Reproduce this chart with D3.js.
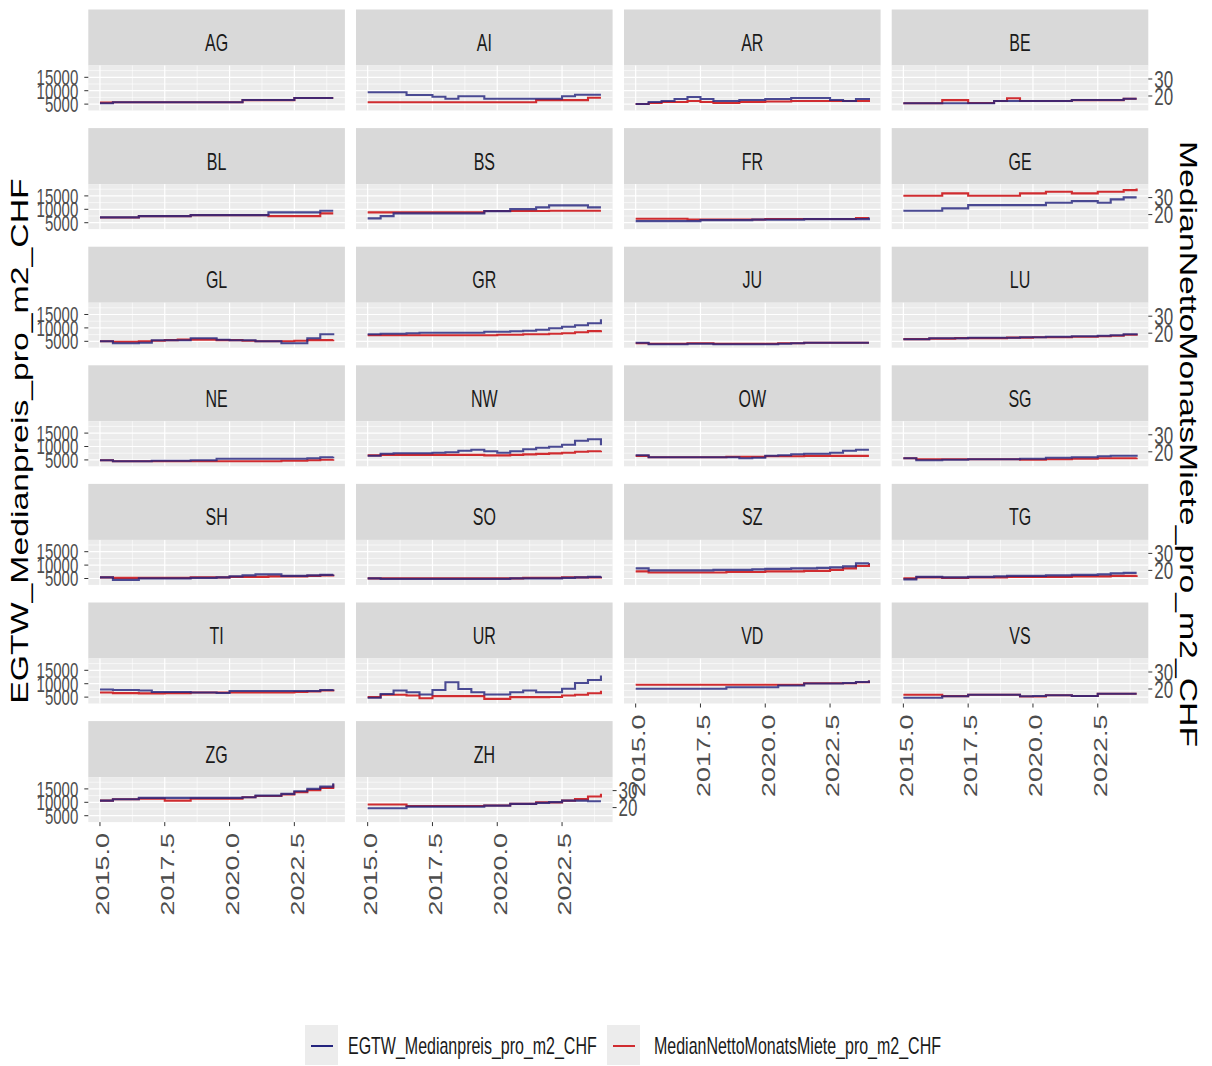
<!DOCTYPE html>
<html><head><meta charset="utf-8">
<script src="https://cdn.jsdelivr.net/npm/d3@7"></script>
<style>body{margin:0;background:#fff}svg{display:block}</style>
</head><body><svg id="c" width="1212" height="1066"></svg>
<script>
// ---------- data ----------
const cantons = ["AG","AI","AR","BE","BL","BS","FR","GE","GL","GR","JU","LU","NE","NW","OW","SG","SH","SO","SZ","TG","TI","UR","VD","VS","ZG","ZH"];
const periods = [2015,2015.5,2016,2016.5,2017,2017.5,2018,2018.5,2019,2019.5,2020,2020.5,2021,2021.5,2022,2022.5,2023,2023.5,2024];
const xTicks = [2015,2017.5,2020,2022.5];
const xTickLabels = ["2015.0","2017.5","2020.0","2022.5"];
const leftTicks = [5000,10000,15000];
const leftTickLabels = ["5000","10000","15000"];
const rightTicks = [20,30];
const rightTickLabels = ["20","30"];
const seriesNames = ["EGTW_Medianpreis_pro_m2_CHF","MedianNettoMonatsMiete_pro_m2_CHF"];

const AG_egtw = [5300,5680,5680,5680,5680,5680,5680,5680,5680,5680,5680,6530,6530,6530,6530,7280,7280,7280,7280];
const AG_rent = [16.1,16.3,16.3,16.3,16.3,16.3,16.3,16.3,16.3,16.3,16.3,17.6,17.6,17.6,17.6,18.8,18.8,18.8,18.8];
const AI_egtw = [9410,9410,9410,8400,8400,7770,7020,7910,7910,7020,7020,7020,7020,7020,7020,7910,8510,8510,8510];
const AI_rent = [16.3,16.3,16.3,16.3,16.3,16.3,16.3,16.3,16.3,16.3,16.3,16.3,16.3,17.6,17.6,17.6,17.6,19.0,19.0];
const AR_egtw = [5040,5790,6160,6910,7650,6910,6160,6160,6530,6530,6910,6910,7280,7280,7280,6530,6160,6910,7280];
const AR_rent = [15.3,15.9,16.5,16.5,17.1,16.5,15.9,15.9,16.5,16.5,16.8,16.8,17.1,17.1,17.1,17.1,17.1,17.1,17.6];
const BE_egtw = [5300,5300,5300,5300,5300,5300,5300,6160,6160,6160,6160,6160,6160,6530,6530,6530,6530,7020,7020];
const BE_rent = [15.7,15.7,15.7,17.6,17.6,15.9,15.9,17.1,18.7,17.1,17.1,17.1,17.1,17.6,17.6,17.6,17.6,18.4,18.4];
const BL_egtw = [6980,6980,6980,7470,7470,7470,7470,7840,7840,7840,7840,7840,7840,8850,8850,8850,8850,9440,9440];
const BL_rent = [18.3,18.3,18.3,19.1,19.1,19.1,19.1,19.7,19.7,19.7,19.7,19.7,19.7,19.1,19.1,19.1,19.1,20.7,20.7];
const BS_egtw = [6610,7470,8470,8470,8470,8470,8470,8470,8470,9330,9330,10080,10080,10710,11460,11460,11460,10710,10710];
const BS_rent = [21.3,21.3,21.3,21.3,21.3,21.3,21.3,21.3,21.3,22.1,22.1,22.1,22.1,22.1,22.3,22.3,22.3,22.3,22.3];
const FR_egtw = [5600,5600,5600,5600,5600,5980,5980,5980,5980,6160,6160,6160,6160,6350,6350,6350,6350,6350,6910];
const FR_rent = [17.6,17.6,17.6,17.6,17.1,17.1,17.1,17.1,17.1,17.1,17.4,17.4,17.4,17.4,17.4,17.4,17.4,17.9,17.9];
const GE_egtw = [9440,9440,9440,10340,10340,11570,11570,11570,11570,11570,11570,12430,12430,13060,13060,12430,13700,14440,14440];
const GE_rent = [31.1,31.1,31.1,32.5,32.5,31.1,31.1,31.1,31.1,32.5,32.5,33.4,33.4,32.5,32.5,33.4,33.4,34.4,35.4];
const GL_egtw = [5040,4300,4300,4480,5420,5420,5420,6160,6160,5600,5420,5420,5040,5040,4300,4300,6160,7650,8030];
const GL_rent = [15.3,15.0,15.0,15.3,15.6,15.9,16.2,16.2,16.2,15.9,15.9,15.6,15.3,15.3,15.3,15.6,15.9,15.9,16.2];
const GR_egtw = [7650,7840,7840,8030,8210,8210,8210,8210,8210,8590,8590,8770,8960,9330,9890,10450,11010,11760,13250];
const GR_rent = [18.8,18.8,18.8,18.8,18.8,18.8,18.8,18.8,18.8,18.8,19.1,19.1,19.4,19.4,19.7,20.0,20.6,21.2,21.8];
const JU_egtw = [4480,3920,3920,3920,4110,4110,3920,3920,3920,3920,3920,4110,4300,4480,4480,4480,4480,4480,4480];
const JU_rent = [14.1,13.8,13.8,13.8,14.1,14.1,13.8,13.8,13.8,13.8,13.8,14.1,14.1,14.4,14.4,14.4,14.4,14.4,14.4];
const LU_egtw = [5790,5790,6160,6160,6160,6350,6350,6350,6350,6530,6530,6720,6720,6910,6910,7100,7280,7650,8030];
const LU_rent = [16.5,16.5,16.8,16.8,17.1,17.1,17.1,17.1,17.4,17.4,17.6,17.6,17.6,17.9,17.9,18.2,18.5,19.1,19.7];
const NE_egtw = [4860,4480,4480,4480,4670,4670,4670,4860,4860,5420,5420,5420,5420,5420,5420,5420,5600,5980,6160];
const NE_rent = [15.0,14.4,14.4,14.4,14.4,14.4,14.4,14.4,14.4,14.4,14.4,14.4,14.4,14.4,14.7,14.7,15.0,15.3,15.6];
const NW_egtw = [6530,7280,7470,7470,7470,7650,7840,8400,8770,8210,7650,8210,8960,9520,9890,10640,12130,12690,10500];
const NW_rent = [17.9,18.2,18.2,18.2,18.2,18.2,18.2,18.2,18.2,17.9,17.9,18.2,18.5,18.8,19.1,19.4,20.0,20.3,20.6];
const OW_egtw = [6720,5980,5980,5980,5980,5980,5980,5980,5600,5790,6530,6720,7100,7280,7280,7650,8400,8770,8770];
const OW_rent = [17.6,16.8,16.8,16.8,16.8,16.8,16.8,17.1,17.1,17.1,17.4,17.4,17.4,17.6,17.6,17.6,17.6,17.6,17.6];
const SG_egtw = [5600,4860,4860,5040,5040,5230,5230,5230,5230,5420,5420,5790,5790,5980,5980,6350,6530,6530,6910];
const SG_rent = [16.2,15.6,15.6,15.6,15.6,15.6,15.6,15.6,15.6,15.3,15.3,15.6,15.6,15.9,15.9,16.2,16.2,16.2,16.5];
const SH_egtw = [5420,4480,4480,5040,5040,5040,5040,5230,5230,5420,5790,6160,6530,6530,5980,5980,6160,6350,6530];
const SH_rent = [15.9,15.6,15.6,15.6,15.6,15.6,15.6,15.9,15.9,15.9,16.2,16.2,16.2,16.5,16.5,16.5,16.8,17.1,17.4];
const SO_egtw = [5040,4860,4860,4860,4860,4860,4860,4860,4860,4860,4860,5040,5040,5040,5040,5230,5420,5600,5790];
const SO_rent = [15.3,15.3,15.3,15.3,15.3,15.3,15.3,15.3,15.3,15.3,15.3,15.3,15.6,15.6,15.6,15.9,15.9,15.9,16.2];
const SZ_egtw = [8770,8030,8030,8030,8030,8030,8210,8210,8210,8400,8590,8590,8770,8770,8960,9150,9520,10640,10820];
const SZ_rent = [19.4,18.8,18.8,18.8,18.8,18.8,18.8,19.1,19.1,19.1,19.4,19.4,19.4,19.7,19.7,20.3,21.2,22.6,23.8];
const TG_egtw = [4670,5600,5600,5420,5420,5600,5600,5790,5980,5980,5980,6160,6160,6350,6350,6530,6910,7100,7100];
const TG_rent = [15.3,15.9,15.9,15.6,15.6,15.9,15.9,15.9,16.2,16.2,16.2,16.2,16.2,16.5,16.5,16.5,16.8,16.8,17.1];
const TI_egtw = [7840,7650,7650,7470,6910,6910,6910,6720,6720,6530,7280,7280,7280,7280,7280,7280,7280,7650,7840];
const TI_rent = [17.9,17.6,17.6,17.4,17.4,17.6,17.6,17.9,17.9,17.9,17.9,17.9,17.9,17.9,17.9,18.2,18.5,19.1,19.7];
const UR_egtw = [4740,6160,7470,6830,5980,7650,10560,8030,6830,5980,5980,6830,7470,6830,6830,8100,10260,11380,13060];
const UR_rent = [15.2,16.6,16.6,16.2,14.6,15.8,15.8,15.8,15.8,14.2,14.2,15.2,15.2,15.2,15.3,16.2,16.6,17.5,18.9];
const VD_egtw = [8100,8100,8100,8100,8100,8100,8100,8700,8700,8700,8700,9330,9330,10080,10080,10080,10260,10640,11200];
const VD_rent = [22.5,22.5,22.5,22.5,22.5,22.5,22.5,22.5,22.5,22.5,22.5,22.5,22.5,23.4,23.4,23.4,23.4,24.0,25.0];
const VS_egtw = [4740,4740,4740,5340,5340,5860,5860,5860,5860,5340,5420,5680,5680,5420,5420,6240,6240,6240,6240];
const VS_rent = [16.6,16.6,16.6,15.8,15.8,16.6,16.6,16.6,16.6,15.6,15.6,16.3,16.3,15.9,15.9,17.2,17.2,17.2,17.2];
const ZG_egtw = [10640,11120,11120,11640,11640,11640,11640,11640,11640,11640,11640,11870,12500,12500,13140,14110,15000,15860,17090];
const ZG_rent = [24.1,24.9,24.9,25.3,25.3,24.1,24.1,25.3,25.3,25.3,25.3,26.1,26.8,26.8,27.8,29.1,30.3,31.6,33.8];
const ZH_egtw = [7760,7760,7760,8400,8400,8400,8400,8400,8400,8770,8770,9410,9410,9780,10080,10640,10640,10380,10380];
const ZH_rent = [21.8,21.8,21.8,20.9,20.9,20.9,20.9,20.9,20.9,21.2,21.2,22.2,22.2,23.1,23.1,24.1,25.0,26.5,28.1];

const egtwTable = {AG:AG_egtw,AI:AI_egtw,AR:AR_egtw,BE:BE_egtw,BL:BL_egtw,BS:BS_egtw,FR:FR_egtw,GE:GE_egtw,GL:GL_egtw,GR:GR_egtw,JU:JU_egtw,LU:LU_egtw,NE:NE_egtw,NW:NW_egtw,OW:OW_egtw,SG:SG_egtw,SH:SH_egtw,SO:SO_egtw,SZ:SZ_egtw,TG:TG_egtw,TI:TI_egtw,UR:UR_egtw,VD:VD_egtw,VS:VS_egtw,ZG:ZG_egtw,ZH:ZH_egtw};
const rentTable = {AG:AG_rent,AI:AI_rent,AR:AR_rent,BE:BE_rent,BL:BL_rent,BS:BS_rent,FR:FR_rent,GE:GE_rent,GL:GL_rent,GR:GR_rent,JU:JU_rent,LU:LU_rent,NE:NE_rent,NW:NW_rent,OW:OW_rent,SG:SG_rent,SH:SH_rent,SO:SO_rent,SZ:SZ_rent,TG:TG_rent,TI:TI_rent,UR:UR_rent,VD:VD_rent,VS:VS_rent,ZG:ZG_rent,ZH:ZH_rent};

// ---------- layout ----------
const K = 1.45; // vertical text stretch
const FONT = "'Liberation Sans', Arial, sans-serif";
const colLeft = [88.3, 356, 624, 891.7];
const PW = 256.6, PH = 45, STRIP = 56;
const rowTop = r => 65.5 + 118.6 * r;
const NCOL = 4;
const BLUE = "#24247e", RED = "#d02c30";

const svg = d3.select("#c");
const x = d3.scaleLinear().domain([2014.55, 2024.45]).range([0, PW]);
const yE = d3.scaleLinear().domain([2618, 19400]).range([PH, 0]);
const yR = d3.scaleLinear().domain([11.47, 37.94]).range([PH, 0]);

function txt(g, px, py, s, o) {
  return g.append("text")
    .attr("transform", `translate(${px},${py}) scale(1,${K})` + (o.rot ? ` rotate(${o.rot})` : ""))
    .attr("font-family", FONT).attr("font-size", o.size)
    .attr("fill", o.fill || "#000").attr("text-anchor", o.anchor || "start")
    .text(s);
}

const lineE = d3.line().x((d, i) => x(periods[i])).y(d => yE(d)).curve(d3.curveStepAfter);
const lineR = d3.line().x((d, i) => x(periods[i])).y(d => yR(d)).curve(d3.curveStepAfter);

cantons.forEach((c, idx) => {
  const row = Math.floor(idx / NCOL), col = idx % NCOL;
  const left = colLeft[col], top = rowTop(row);
  const g = svg.append("g").attr("transform", `translate(${left},${top})`);
  // strip
  g.append("rect").attr("x", 0).attr("y", -STRIP).attr("width", PW).attr("height", STRIP).attr("fill", "#d9d9d9");
  txt(g, PW / 2, -STRIP + 41.5, c, {size: 16, anchor: "middle", fill: "#1a1a1a"});
  // panel
  g.append("rect").attr("width", PW).attr("height", PH).attr("fill", "#ebebeb");
  const minorY = [7500, 12500, 17500];
  minorY.forEach(v => g.append("line").attr("x1", 0).attr("x2", PW).attr("y1", yE(v)).attr("y2", yE(v)).attr("stroke", "#fff").attr("stroke-width", 0.6));
  const minorX = [2016.25, 2018.75, 2021.25, 2023.75];
  minorX.forEach(v => g.append("line").attr("y1", 0).attr("y2", PH).attr("x1", x(v)).attr("x2", x(v)).attr("stroke", "#fff").attr("stroke-width", 0.6));
  leftTicks.forEach(v => g.append("line").attr("x1", 0).attr("x2", PW).attr("y1", yE(v)).attr("y2", yE(v)).attr("stroke", "#fff").attr("stroke-width", 1.2));
  xTicks.forEach(v => g.append("line").attr("y1", 0).attr("y2", PH).attr("x1", x(v)).attr("x2", x(v)).attr("stroke", "#fff").attr("stroke-width", 1.2));
  // series
  g.append("path").attr("d", lineR(rentTable[c])).attr("fill", "none").attr("stroke", RED).attr("stroke-width", 2.1);
  g.append("path").attr("d", lineE(egtwTable[c])).attr("fill", "none").attr("stroke", BLUE).attr("stroke-width", 2.1).attr("stroke-opacity", 0.82);
  // left axis
  if (col === 0) {
    leftTicks.forEach((v, i) => {
      g.append("line").attr("x1", -4).attr("x2", 0).attr("y1", yE(v)).attr("y2", yE(v)).attr("stroke", "#333").attr("stroke-width", 1);
      txt(g, -10, yE(v) + 7.8, leftTickLabels[i], {size: 15, anchor: "end", fill: "#4d4d4d"});
    });
  }
  // right axis: last panel in row
  const lastInRow = col === NCOL - 1 || idx === cantons.length - 1;
  if (lastInRow) {
    rightTicks.forEach((v, i) => {
      g.append("line").attr("x1", PW).attr("x2", PW + 4).attr("y1", yR(v)).attr("y2", yR(v)).attr("stroke", "#333").attr("stroke-width", 1);
      txt(g, PW + 6, yR(v) + 8.8, rightTickLabels[i], {size: 17, anchor: "start", fill: "#4d4d4d"});
    });
  }
  // bottom axis: no panel below
  if (idx + NCOL >= cantons.length) {
    xTicks.forEach((v, i) => {
      g.append("line").attr("x1", x(v)).attr("x2", x(v)).attr("y1", PH).attr("y2", PH + 4).attr("stroke", "#333").attr("stroke-width", 1);
      txt(g, x(v) + 9.3, PH + 11, xTickLabels[i], {size: 18.6, anchor: "end", rot: -90, fill: "#4d4d4d"});
    });
  }
});

// axis titles
txt(svg, 27.5, 441, seriesNames[0], {size: 23.3, anchor: "middle", rot: -90});
txt(svg, 1180, 444, seriesNames[1], {size: 23.3, anchor: "middle", rot: 90});

// legend
const legendItems = [
  {name: seriesNames[0], color: BLUE, bx: 305, tx: 348},
  {name: seriesNames[1], color: RED, bx: 607, tx: 654}
];
legendItems.forEach(it => {
  svg.append("rect").attr("x", it.bx).attr("y", 1025).attr("width", 33).attr("height", 40).attr("fill", "#ececec");
  svg.append("line").attr("x1", it.bx + 6).attr("x2", it.bx + 28).attr("y1", 1046).attr("y2", 1046).attr("stroke", it.color).attr("stroke-width", 2);
  txt(svg, it.tx, 1054, it.name, {size: 16, fill: "#1a1a1a"});
});
</script></body></html>
